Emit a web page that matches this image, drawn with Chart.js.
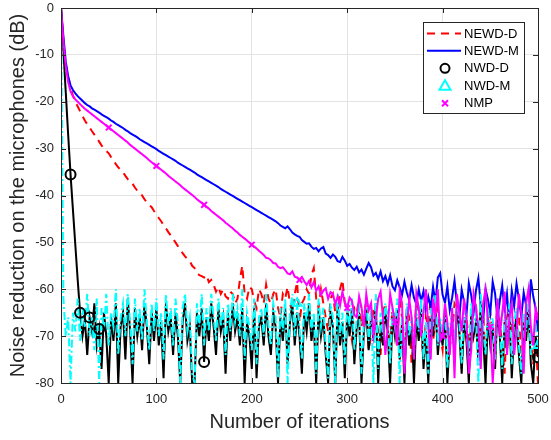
<!DOCTYPE html>
<html>
<head>
<meta charset="utf-8">
<script src="https://cdn.jsdelivr.net/npm/chart.js@4.4.1/dist/chart.umd.min.js"></script>
<style>
html,body{margin:0;padding:0;background:#fff;}
#wrap{width:551px;height:440px;position:relative;}
</style>
</head>
<body>
<div id="wrap"><canvas id="c" width="551" height="440"></canvas></div>
<script>
const iters = [0,2.5,5,7.5,10,12.5,15,17.5,20,22.5,25,27.5,30,32.5,35,37.5,40,42.5,45,47.5,50,52.5,55,57.5,60,62.5,65,67.5,70,72.5,75,77.5,80,82.5,85,87.5,90,92.5,95,97.5,100,102.5,105,107.5,110,112.5,115,117.5,120,122.5,125,127.5,130,132.5,135,137.5,140,142.5,145,147.5,150,152.5,155,157.5,160,162.5,165,167.5,170,172.5,175,177.5,180,182.5,185,187.5,190,192.5,195,197.5,200,202.5,205,207.5,210,212.5,215,217.5,220,222.5,225,227.5,230,232.5,235,237.5,240,242.5,245,247.5,250,252.5,255,257.5,260,262.5,265,267.5,270,272.5,275,277.5,280,282.5,285,287.5,290,292.5,295,297.5,300,302.5,305,307.5,310,312.5,315,317.5,320,322.5,325,327.5,330,332.5,335,337.5,340,342.5,345,347.5,350,352.5,355,357.5,360,362.5,365,367.5,370,372.5,375,377.5,380,382.5,385,387.5,390,392.5,395,397.5,400,402.5,405,407.5,410,412.5,415,417.5,420,422.5,425,427.5,430,432.5,435,437.5,440,442.5,445,447.5,450,452.5,455,457.5,460,462.5,465,467.5,470,472.5,475,477.5,480,482.5,485,487.5,490,492.5,495,497.5,500];

const xTicks = [0,100,200,300,400,500];
const yTicks = [0,-10,-20,-30,-40,-50,-60,-70,-80];

const newdD = [
0,-7,-12,-15,-17,-18.7,-20,-21,-22,-23,
-24,-24.8,-25.5,-26.3,-27,-27.8,-28.5,-29.3,-30,-30.5,
-31,-31.8,-32.5,-33.3,-34,-34.5,-35,-35.8,-36.5,-37,
-37.5,-38.3,-39,-39.5,-40,-40.8,-41.5,-42,-42.5,-43.3,
-44,-44.8,-45.5,-46.3,-47,-47.8,-48.5,-49.3,-50,-50.8,
-51.5,-52.3,-53,-53.5,-54,-55,-55.5,-56.5,-57,-57.2,
-57.5,-57,-58.5,-58,-59,-60.5,-59.5,-61,-60,-61.5,
-62,-60.5,-61,-63,-62,-58,-55,-61,-62,-59.5,
-60,-62.5,-64,-60,-61,-63,-59,-62,-63,-61,
-60,-64,-66,-61,-62,-59.5,-63,-65,-61,-58.5,
-67,-63,-62,-60,-61,-57,-55.5,-62,-64,-60,
-63,-66,-69,-62,-61,-65,-66,-60,-58,-63,
-64,-68,-71,-64,-65,-62,-68,-66,-62,-73,
-70,-64,-66,-69,-74,-65,-63,-67,-71,-64,
-67,-72,-62,-66,-73,-64,-66,-76,-70,-63,
-65,-69,-75,-66,-68,-62,-71,-67,-64,-70,
-73,-65,-67,-72,-70,-63,-64,-69,-77,-68,
-66,-71,-72,-64,-63,-74,-69,-65,-75,-67,
-65,-70,-71,-63,-67,-72,-78,-66,-64,-69,
-70,-65,-66,-74,-73,-64,-68,-71,-76,-70,
-80];

const newdM = [
0,-6,-11.5,-14.5,-16.5,-17.5,-18.2,-18.8,-19.3,-19.8,
-20.3,-20.7,-21,-21.4,-21.7,-22,-22.3,-22.7,-23,-23.3,
-23.6,-24,-24.3,-24.7,-25,-25.3,-25.6,-26,-26.3,-26.7,
-27,-27.3,-27.6,-28,-28.3,-28.6,-28.9,-29.2,-29.5,-29.8,
-30.1,-30.5,-30.8,-31.1,-31.4,-31.7,-32,-32.3,-32.6,-33,
-33.3,-33.6,-33.9,-34.2,-34.5,-34.8,-35.1,-35.5,-35.8,-36.1,
-36.4,-36.7,-37,-37.3,-37.6,-37.9,-38.2,-38.6,-38.9,-39.2,
-39.5,-39.8,-40.1,-40.4,-40.7,-41,-41.3,-41.6,-41.9,-42.2,
-42.5,-42.8,-43.1,-43.4,-43.7,-44,-44.3,-44.6,-44.9,-45.2,
-45.5,-45.9,-46.4,-46.7,-47,-46.6,-47.2,-47.9,-48.3,-48.6,
-48.8,-49.5,-49.9,-50.3,-50.2,-50.9,-51.4,-51.2,-51.9,-51.3,
-51,-52.4,-52.7,-53.3,-52.6,-53.1,-54,-54.2,-53.1,-53.9,
-55,-54.6,-55.4,-55.9,-55.2,-56.4,-55.8,-56.9,-55.6,-54.4,
-55.3,-57.1,-56.5,-57.8,-56.2,-58.3,-57.2,-58.9,-57,-59.4,
-60.2,-58.1,-59.6,-61.2,-58.4,-60.7,-62.3,-59.1,-61.8,-63.2,
-60,-62.5,-60.4,-64.2,-61.6,-63.9,-59.5,-62.8,-57.5,-56.6,
-61.2,-62.9,-59.4,-64.5,-61.8,-58.2,-63.1,-66.2,-60.1,-62.7,
-65.6,-58.7,-61.3,-64.8,-60.2,-57.6,-63.5,-66.8,-59.9,-62.2,
-65.1,-58.4,-60.9,-66.3,-62.4,-59.2,-64.7,-61,-67.5,-60.3,
-63.6,-58.8,-62.1,-65.9,-60.7,-63.4,-67.2,-57.9,-61.5,-64.1,
-69];

const nwdD = [
0,-9,-18,-27,-35.5,-43,-50.5,-58,-65,-70,
-66.5,-74,-66,-69,-63,-72,-68.5,-77,-65,-70,
-80,-66,-71,-63,-80,-68,-65,-75,-62,-69,
-80,-64,-70,-66,-73,-63,-68,-76,-65,-71,
-64,-72,-67,-79,-63,-69,-66,-74,-65,-70,
-80,-67,-63,-71,-68,-80,-80,-65,-70,-64,
-75.5,-66,-71,-63,-68,-74,-64,-69,-66,-78,
-65,-71,-63,-69,-66,-72,-64,-80,-67,-70,
-77,-64,-79,-68,-66,-72,-63,-70,-74,-65,
-68,-80,-66,-71,-64,-76,-67,-63,-72,-65,
-70,-78,-65,-69,-63,-71,-67,-80,-64,-70,
-66,-74,-80,-65,-68,-80,-63,-72,-67,-79,
-65,-70,-64,-76,-68,-66,-80,-69,-64,-73,
-66,-71,-63,-80,-67,-72,-65,-69,-80,-66,
-70,-64,-75,-67,-80,-65,-72,-68,-80,-66,
-71,-64,-77,-69,-80,-66,-70,-63,-74,-68,
-72,-65,-80,-70,-67,-74,-64,-69,-78,-66,
-71,-80,-65,-70,-67,-75,-63,-70,-80,-66,
-72,-68,-77,-64,-70,-80,-67,-73,-65,-79,
-69,-66,-74,-80,-67,-71,-64,-76,-80,-70,
-74.5];

const nwdM = [
0,-62,-70,-66,-80,-65,-69,-62,-71,-64,
-68,-61,-70,-66,-73,-62,-80,-64,-69,-61,
-72,-65,-68,-60,-74,-66,-63,-70,-61,-67,
-76,-62,-69,-64,-71,-60,-67,-73,-63,-69,
-62,-70,-65,-75,-61,-68,-64,-72,-62,-67,
-80,-64,-61,-69,-66,-78,-80,-63,-68,-61,
-72,-64,-69,-61,-66,-71,-62,-68,-64,-74,
-63,-69,-61,-67,-64,-70,-60,-75,-65,-68,
-73,-62,-76,-66,-64,-70,-61,-68,-72,-63,
-66,-79,-64,-69,-62,-80,-65,-61,-70,-63,
-68,-75,-63,-67,-61,-69,-65,-78,-62,-68,
-64,-72,-79,-63,-66,-80,-61,-70,-65,-76,
-63,-68,-62,-73,-66,-64,-78,-67,-62,-71,
-64,-80,-61,-77,-65,-70,-63,-67,-76,-64,
-68,-62,-80,-65,-76,-63,-70,-66,-74,-64,
-69,-62,-75,-67,-78,-64,-68,-61,-72,-66,
-70,-63,-77,-68,-65,-72,-62,-67,-76,-64,
-69,-75,-63,-68,-65,-80,-61,-68,-74,-64,
-70,-66,-75,-62,-68,-77,-65,-71,-63,-76,
-67,-64,-72,-78,-65,-69,-62,-74,-70,-68,
-72];

const nmp = [
0,-7,-12.5,-15.8,-17.8,-18.8,-19.5,-20,-20.5,-21,
-21.5,-21.9,-22.3,-22.7,-23.1,-23.5,-23.9,-24.3,-24.7,-25.1,
-25.5,-25.9,-26.3,-26.7,-27.1,-27.5,-27.9,-28.3,-28.7,-29.2,
-29.6,-30,-30.4,-30.8,-31.2,-31.6,-32,-32.5,-32.9,-33.3,
-33.7,-34.1,-34.5,-34.9,-35.3,-35.8,-36.2,-36.6,-37,-37.4,
-37.8,-38.3,-38.7,-39.1,-39.5,-39.9,-40.3,-40.8,-41.2,-41.6,
-42,-42.4,-42.8,-43.3,-43.7,-44.1,-44.5,-44.9,-45.3,-45.8,
-46.2,-46.6,-47,-47.5,-47.9,-48.4,-48.8,-49.2,-49.6,-50.1,
-50.5,-50.9,-51.3,-51.8,-52.2,-52.7,-53.3,-53.4,-53.8,-54.4,
-54.5,-55.2,-55.5,-55.3,-55.9,-56.6,-56.8,-56.2,-57.3,-57.5,
-58,-57.4,-58.3,-59.1,-58.2,-59.6,-58.5,-60.3,-59.4,-61.2,
-60.3,-59.8,-62,-60.6,-61,-63.2,-61.5,-63.5,-60.5,-62.8,
-64,-61.8,-62.5,-65.5,-66,-61.5,-63.8,-68,-61,-64.5,
-63,-70,-66.5,-62,-60.5,-66,-74,-68,-61,-64,
-67,-72,-60.5,-63,-78,-68,-62,-66,-75,-61,
-64,-70,-65,-60,-68,-75,-62,-66,-60,-71,
-70,-63,-67,-74,-64,-79,-61,-65,-69,-62,
-66,-78,-73,-61,-64,-68,-77,-63,-60,-67,
-68,-80,-72,-62,-70,-65,-60.5,-74,-66,-63,
-74,-69,-61,-65,-78,-63,-60,-68,-72,-64,
-66];

const nwdDMarkers = [10,20,30,40,150,500];
const nwdMMarkers = [247.5,500];
const nmpMarkers = [50,100,150,200,250,300,350,400,450,500];

const seriesNames = ['NEWD-D','NEWD-M','NWD-D','NWD-M','NMP'];
const seriesColors = ['#ff0000','#0000ff','#000000','#00ffff','#ff00ff'];

function pts(vals){ return iters.map((x,i)=>({x:x,y:vals[i]})); }
function markerPts(vals, list){ return pts(vals).filter(p=>list.includes(p.x)); }
function markerRadius(list, r){ return ctx => (ctx.raw && list.includes(ctx.raw.x)) ? r : 0; }

const FONT = '"Liberation Sans", Arial, Helvetica, sans-serif';

const framePlugin = {
  id:'frameLegend',
  afterDatasetsDraw(chart){
    const ctx = chart.ctx, a = chart.chartArea;
    const xs = chart.scales.x, ys = chart.scales.y;
    ctx.save();
    ctx.strokeStyle = '#262626';
    ctx.lineWidth = 1;
    ctx.strokeRect(Math.round(a.left)+0.5, Math.round(a.top)+0.5, Math.round(a.right-a.left), Math.round(a.bottom-a.top));
    ctx.beginPath();
    xTicks.forEach(v=>{
      const px = Math.round(xs.getPixelForValue(v))+0.5;
      ctx.moveTo(px,a.bottom); ctx.lineTo(px,a.bottom-5);
      ctx.moveTo(px,a.top); ctx.lineTo(px,a.top+5);
    });
    yTicks.forEach(v=>{
      const py = Math.round(ys.getPixelForValue(v))+0.5;
      ctx.moveTo(a.left,py); ctx.lineTo(a.left+5,py);
      ctx.moveTo(a.right,py); ctx.lineTo(a.right-5,py);
    });
    ctx.stroke();

    // legend
    const bx=423.5, by=22.5, bw=101, bh=91;
    ctx.fillStyle='#ffffff';
    ctx.fillRect(bx,by,bw,bh);
    ctx.strokeStyle='#262626';
    ctx.strokeRect(bx,by,bw,bh);
    const rows=[33.5,50.8,68.3,85.8,103.3];
    ctx.font = '13px '+FONT;
    ctx.textBaseline='middle';
    ctx.textAlign='left';
    rows.forEach((ry,i)=>{
      ctx.save();
      ctx.lineWidth=2;
      ctx.strokeStyle=seriesColors[i];
      if(i===0){
        ctx.setLineDash([8,6]);
        ctx.beginPath(); ctx.moveTo(427,ry); ctx.lineTo(461,ry); ctx.stroke();
      } else if(i===1){
        ctx.beginPath(); ctx.moveTo(427,ry); ctx.lineTo(461,ry); ctx.stroke();
      } else if(i===2){
        ctx.beginPath(); ctx.arc(445,ry,4.5,0,Math.PI*2); ctx.stroke();
      } else if(i===3){
        ctx.beginPath(); ctx.moveTo(445,ry-5.5); ctx.lineTo(450.5,ry+4); ctx.lineTo(439.5,ry+4); ctx.closePath(); ctx.stroke();
      } else {
        ctx.beginPath(); ctx.moveTo(442,ry-3); ctx.lineTo(448,ry+3); ctx.moveTo(448,ry-3); ctx.lineTo(442,ry+3); ctx.stroke();
      }
      ctx.restore();
      ctx.fillStyle='#000000';
      ctx.fillText(seriesNames[i],464,ry+0.5);
    });
    ctx.restore();
  }
};

new Chart(document.getElementById('c'),{
  type:'line',
  data:{
    datasets:[
      {label:seriesNames[0],data:pts(newdD),borderColor:seriesColors[0],borderWidth:2,borderDash:[8,6],pointRadius:0,order:4,tension:0},
      {label:seriesNames[1],data:pts(newdM),borderColor:seriesColors[1],borderWidth:2,pointRadius:0,order:3,tension:0},
      {label:seriesNames[2],data:pts(nwdD),borderColor:seriesColors[2],borderWidth:2,pointRadius:0,order:2,tension:0},
      {label:seriesNames[3],data:pts(nwdM),borderColor:seriesColors[3],borderWidth:2,borderDash:[8,3,2,3],pointStyle:'triangle',pointRadius:markerRadius(nwdMMarkers,5),pointBorderColor:'#00ffff',pointBorderWidth:2,pointBackgroundColor:'rgba(0,0,0,0)',order:1,tension:0},
      {label:seriesNames[4],data:pts(nmp),borderColor:seriesColors[4],borderWidth:2,pointStyle:'crossRot',pointRadius:markerRadius(nmpMarkers,4),pointBorderColor:'#ff00ff',pointBorderWidth:2,order:0,tension:0},
      {label:seriesNames[2]+' markers',data:markerPts(nwdD,nwdDMarkers),showLine:false,pointStyle:'circle',pointRadius:5,pointBorderColor:'#000',pointBorderWidth:2,pointBackgroundColor:'rgba(0,0,0,0)',order:-1}
    ]
  },
  options:{
    responsive:false,
    animation:false,
    layout:{padding:{top:8,right:13,left:0,bottom:0}},
    plugins:{legend:{display:false},tooltip:{enabled:false}},
    scales:{
      x:{
        type:'linear',min:0,max:500,
        afterBuildTicks(s){ s.ticks = xTicks.map(v=>({value:v})); },
        afterFit(s){ s.height = 57; s.paddingLeft = 0; s.paddingRight = 0; },
        grid:{color:'#e3e3e3',lineWidth:1,tickLength:0,drawTicks:false},
        border:{display:false},
        ticks:{color:'#262626',font:{family:FONT,size:13},padding:9,maxRotation:0},
        title:{display:true,text:'Number of iterations',color:'#262626',font:{family:FONT,size:20},padding:{top:0,bottom:6}}
      },
      y:{
        type:'linear',min:-80,max:0,
        afterBuildTicks(s){ s.ticks = yTicks.map(v=>({value:v})); },
        afterFit(s){ s.width = 61; s.paddingTop = 0; s.paddingBottom = 0; },
        grid:{color:'#e3e3e3',lineWidth:1,tickLength:0,drawTicks:false},
        border:{display:false},
        ticks:{color:'#262626',font:{family:FONT,size:13},padding:7},
        title:{display:true,text:'Noise reduction on the microphones (dB)',color:'#262626',font:{family:FONT,size:20},padding:{top:6,bottom:0}}
      }
    }
  },
  plugins:[framePlugin]
});
</script>
</body>
</html>
